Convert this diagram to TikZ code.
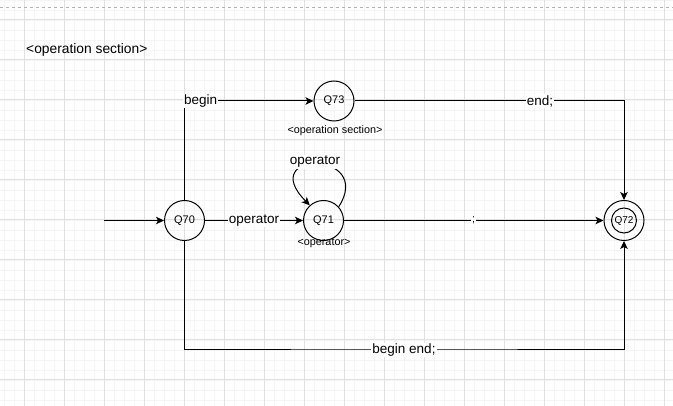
\documentclass[tikz,border=0pt]{standalone}
\usepackage{fontspec}
\setmainfont{Liberation Sans}
\usetikzlibrary{arrows.meta}
\begin{document}
\begin{tikzpicture}[x=1pt,y=-1pt,
  state/.style={circle,draw,line width=1pt,minimum size=40pt,inner sep=0pt,font=\fontsize{11}{13}\selectfont},
  innerring/.style={circle,draw,line width=1pt,minimum size=25pt,inner sep=0pt},
  elabel/.style={fill=white,inner sep=1pt,font=\fontsize{13.5}{15}\selectfont},
  slabel/.style={fill=white,inner sep=1pt,font=\fontsize{11}{12}\selectfont},
  sublabel/.style={inner sep=0pt,font=\fontsize{10.8}{12}\selectfont},
  titlelabel/.style={inner sep=0pt,anchor=west,font=\fontsize{13.8}{15}\selectfont},
  conn/.style={line width=1pt,-{Stealth[length=8pt,width=7.5pt,inset=2pt]}},
  minorgrid/.style={draw=black!4,line width=0.8pt},
  majorgrid/.style={draw=black!12,line width=1pt},
  pagebreak/.style={draw=black!30,line width=0.8pt,dash pattern=on 3pt off 3pt}
]
\useasboundingbox (0,0) rectangle (673,406);
\fill[white] (0,0) rectangle (673,406);
% grid
\foreach \x in {4,14,...,673} \draw[minorgrid] (\x,0) -- (\x,406);
\foreach \y in {0,10,...,406} \draw[minorgrid] (0,\y) -- (673,\y);
\foreach \x in {24,64,...,673} \draw[majorgrid] (\x,0) -- (\x,406);
\foreach \y in {20,60,...,406} \draw[majorgrid] (0,\y) -- (673,\y);
\draw[pagebreak] (0,7) -- (673,7);

% title
\node[titlelabel] (title) at (26,50) {<operation section>};

% states
\node[state] (q70) at (184.5,220.5) {Q70};
\node[state] (q71) at (323.5,220.5) {Q71};
\node[state] (q73) at (334,101) {Q73};
\node[state] (q72) at (624,220.5) {};
\node[innerring] (q72i) at (q72) {Q72};

\node[sublabel] (s73) at (335,131) {<operation section>};
\node[sublabel] (s71) at (324,243) {<operator>};

% connectors
\coordinate (entry) at (104,220.5);
\coordinate (bot) at (404,350);
\draw[conn] (entry) -- (q70);
\draw[conn] (q70) -- node[elabel] (lop1) {operator} (q71);
\draw[conn] (q71) -- node[slabel] (lsemi) {;} (q72);
\draw[conn] (q70) |- node[elabel,pos=0.5,anchor=west,xshift=-2pt] (lbegin) {begin} (q73);
\draw[conn] (q73) -| node[elabel,pos=0.344] (lend) {end;} (q72);
\draw[conn] (q70) |- (bot) -| (q72);
\node[elabel] (lbe) at (bot) {begin end;};
\draw[conn] (q71.42) .. controls (375,150) and (255,150) .. (q71.132);
\node[elabel] (lop2) at (315,162) {operator};
\end{tikzpicture}
\end{document}
